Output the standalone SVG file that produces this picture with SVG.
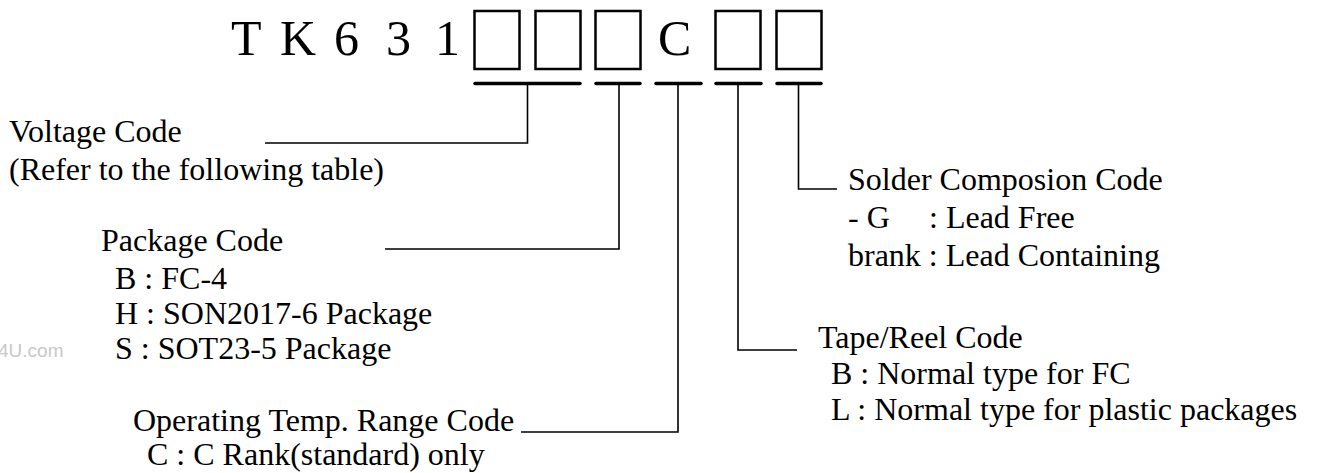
<svg xmlns="http://www.w3.org/2000/svg" width="1323" height="473" viewBox="0 0 1323 473">
<style>
text{font-family:"Liberation Serif","Times New Roman",serif;fill:#000}
.t{font-size:50px}
.b{font-size:32px}
.box{fill:none;stroke:#000;stroke-width:2.5}
.bar{stroke:#000;stroke-width:3.5;stroke-linecap:round}
.ln{fill:none;stroke:#000;stroke-width:1.6}
.wm{font-family:"Liberation Sans",Arial,sans-serif;font-size:19px;fill:#c8c8c8}
</style>
<rect width="1323" height="473" fill="#fff"/>
<g id="title">
<text class="t" x="231" y="55">T</text>
<text class="t" x="280" y="55">K</text>
<text class="t" x="334" y="55">6</text>
<text class="t" x="386" y="55">3</text>
<text class="t" x="435" y="55">1</text>
<rect class="box" x="474.5" y="11" width="45" height="58"/>
<rect class="box" x="535.5" y="11" width="45" height="58"/>
<rect class="box" x="595.5" y="11" width="45" height="58"/>
<text class="t" x="658" y="55">C</text>
<rect class="box" x="715.5" y="11" width="45" height="58"/>
<rect class="box" x="776.5" y="11" width="45" height="58"/>
<line class="bar" x1="475" y1="83.5" x2="580" y2="83.5"/>
<line class="bar" x1="596" y1="83.5" x2="640" y2="83.5"/>
<line class="bar" x1="656" y1="83.5" x2="701" y2="83.5"/>
<line class="bar" x1="716" y1="83.5" x2="761" y2="83.5"/>
<line class="bar" x1="777" y1="83.5" x2="821" y2="83.5"/>
</g>
<g id="connectors">
<path class="ln" d="M527.5,84 V143 H265"/>
<path class="ln" d="M619,84 V249 H385"/>
<path class="ln" d="M678,84 V432 H521"/>
<path class="ln" d="M738,84 V350 H797"/>
<path class="ln" d="M798.5,84 V189 H837"/>
</g>
<g id="voltage">
<text class="b" x="9" y="142">Voltage Code</text>
<text class="b" x="9" y="180">(Refer to the following table)</text>
</g>
<g id="package">
<text class="b" x="101" y="251">Package Code</text>
<text class="b" x="115" y="289">B : FC-4</text>
<text class="b" x="115" y="324">H : SON2017-6 Package</text>
<text class="b" x="115" y="359">S : SOT23-5 Package</text>
</g>
<g id="temp">
<text class="b" x="133" y="431">Operating Temp. Range Code</text>
<text class="b" x="147" y="465">C : C Rank(standard) only</text>
</g>
<g id="solder">
<text class="b" x="848" y="190">Solder Composion Code</text>
<text class="b" x="848" y="228">- G<tspan x="929">: Lead Free</tspan></text>
<text class="b" x="848" y="266">brank : Lead Containing</text>
</g>
<g id="tape">
<text class="b" x="818" y="348">Tape/Reel Code</text>
<text class="b" x="831" y="384">B : Normal type for FC</text>
<text class="b" x="831" y="420">L : Normal type for plastic packages</text>
</g>
<text class="wm" x="-2" y="357">4U.com</text>
</svg>
